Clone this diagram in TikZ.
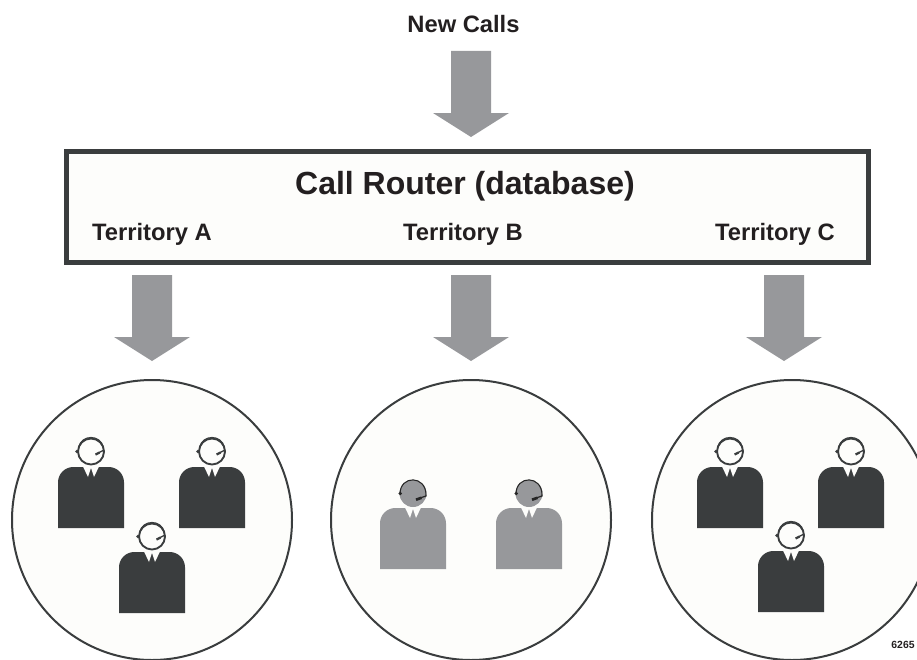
\documentclass[tikz,border=0pt]{standalone}
\usepackage{fontspec}
\setmainfont{Liberation Sans}
\definecolor{darkfig}{HTML}{3A3D3E}
\definecolor{grayfig}{HTML}{97989B}
\definecolor{paper}{HTML}{FDFDFB}
\definecolor{inkc}{HTML}{231F20}
\tikzset{
  x=0.75pt,y=-0.75pt,
  lab/.style={font=\bfseries\fontsize{17.8}{20}\selectfont,text=inkc,inner sep=0pt,anchor=center},
  bigarrow/.style={fill=grayfig,draw=none},
  pool/.style={circle,draw=darkfig,fill=paper,line width=1.5pt,minimum size=210pt,inner sep=0pt},
  pics/downarrow/.style={code={
    \path[bigarrow] (-20,0)--(20,0)--(20,62)--(38,62)--(0,86)--(-38,62)--(-20,62)--cycle;
  }},
  pics/agentdark/.style={code={
    \fill[darkfig] (-33,61) [rounded corners=11.5pt] -- (-33,0) -- (33,0) [sharp corners] -- (33,61) -- cycle;
    \fill[paper] (-8,-0.5)--(-3,10)--(0,0.8)--(3,10)--(8,-0.5)--cycle;
    \draw[darkfig,fill=paper,line width=1.4pt] (0,-15.5) circle[radius=13];
    \draw[darkfig,line width=0.9pt] (-12.5,-19) .. controls (-10,-33) and (10,-33) .. (12.5,-19);
    \fill[darkfig] (-14,-15.5) circle[radius=1.8];
    \draw[darkfig,line width=1pt] (13,-17)--(7,-14);
    \fill[darkfig] (4,-13.5) -- (8,-15.5) -- (9,-13.5) -- (5,-11.5) -- cycle;
  }},
  pics/agentgray/.style={code={
    \fill[grayfig] (-33,61) [rounded corners=11.5pt] -- (-33,0) -- (33,0) [sharp corners] -- (33,61) -- cycle;
    \fill[paper] (-8,-0.5)--(-3,10)--(0,0.8)--(3,10)--(8,-0.5)--cycle;
    \fill[grayfig] (0,-14.5) circle[radius=13.5];
    \draw[black!85,line width=0.8pt] (-13,-14) .. controls (-13,-33) and (13,-33) .. (13,-13);
    \fill[black!85] (-12.8,-14.5) circle[radius=1.9];
    \draw[black!85,line width=0.9pt] (13,-13)--(13,-12)--(7,-10);
    \fill[black!85] (2.5,-9.5) -- (8,-11.5) -- (9,-9) -- (3.5,-7) -- cycle;
  }},
}
\begin{document}
\begin{tikzpicture}
\useasboundingbox (0,0) rectangle (917,660);
\clip (0,0) rectangle (917,660);
\node[lab] (newcalls) at (463.5,24) {New Calls};
\pic at (471,51) {downarrow};
\draw[darkfig,fill=paper,line width=3.75pt] (66,151.5) rectangle (868,262.5);
\node[inner sep=0pt,font=\bfseries\fontsize{24}{28}\selectfont,text=inkc] (router) at (465,186) {Call Router (database)};
\node[lab] (terra) at (152,234) {Territory A};
\node[lab] (terrb) at (463,234) {Territory B};
\node[lab] (terrc) at (775,234) {Territory C};
\pic at (152,275) {downarrow};
\pic at (471,275) {downarrow};
\pic at (784,275) {downarrow};
\node[pool] (poola) at (152,520) {};
\node[pool] (poolb) at (471,520) {};
\node[pool] (poolc) at (792,520) {};
\pic at (91,467) {agentdark};
\pic at (212,467) {agentdark};
\pic at (152,552) {agentdark};
\pic at (413,508) {agentgray};
\pic at (529,508) {agentgray};
\pic at (730,467) {agentdark};
\pic at (851,467) {agentdark};
\pic at (791,551) {agentdark};
\node[inner sep=0pt,font=\bfseries\fontsize{7.8}{9}\selectfont,text=inkc] (figno) at (903,645) {6265};
\end{tikzpicture}
\end{document}
